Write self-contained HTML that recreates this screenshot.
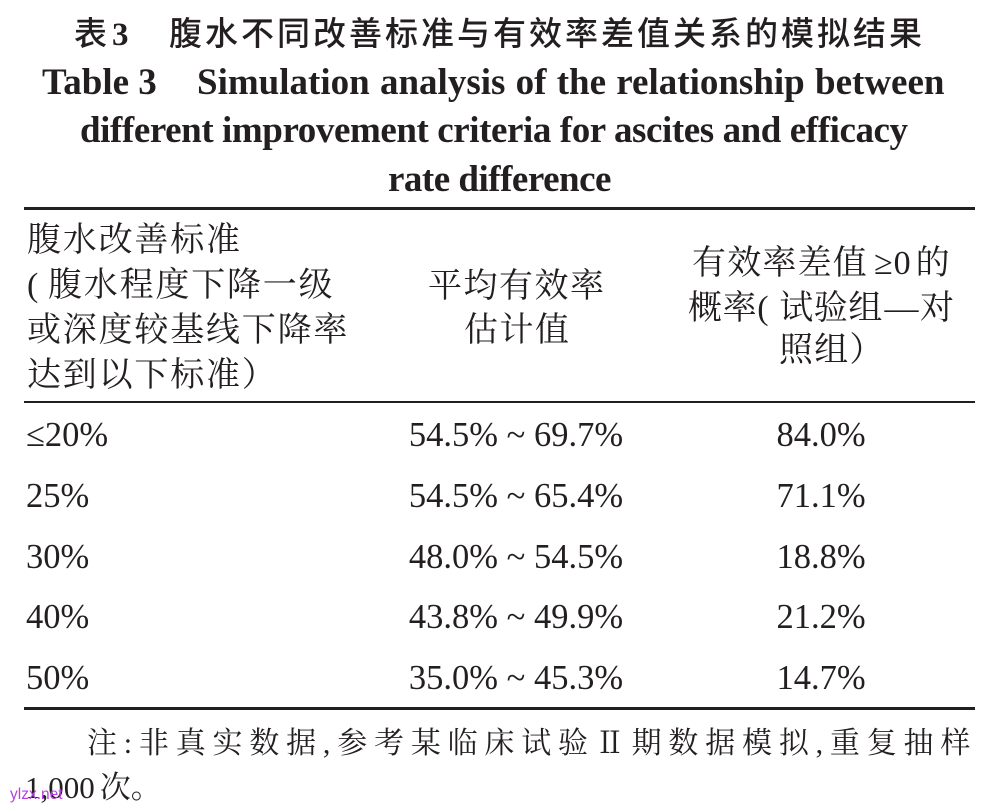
<!DOCTYPE html>
<html><head><meta charset="utf-8">
<style>
html,body{margin:0;padding:0;background:#fff;}
body{width:996px;height:812px;position:relative;overflow:hidden;color:#231f20;}
.a{position:absolute;white-space:nowrap;}
.ib{display:inline-block;}
.t1{font-family:"Noto Sans CJK SC","Liberation Sans",sans-serif;font-weight:500;font-size:33px;line-height:40px;letter-spacing:3px;top:10.6px;left:74px;}
.t1 .n{font-family:"Liberation Serif",serif;font-weight:bold;letter-spacing:0;}
.en{font-family:"Liberation Serif",serif;font-weight:bold;font-size:37px;line-height:48px;}
.rule{position:absolute;left:24px;width:951px;background:#231f20;}
.h{font-family:"Liberation Serif","Noto Serif CJK SC",serif;font-size:34px;line-height:44px;}
.d{font-family:"Liberation Serif","Noto Serif CJK SC",serif;font-size:34.5px;line-height:40px;}
.c2{left:316px;width:400px;text-align:center;}
.c3{left:621px;width:400px;text-align:center;}
.note{font-family:"Liberation Serif","Noto Serif CJK SC",serif;font-size:30px;line-height:40px;}
.wm{font-family:"Liberation Sans",sans-serif;font-size:15.5px;line-height:20px;color:#b83fe4;left:10px;top:784.6px;}
</style></head><body>

<div class="a t1"><span class="ib" style="width:38px">表</span><span class="ib n" style="width:57px">3</span>腹水不同改善标准与有效率差值关系的模拟结果</div>

<div class="a en" style="left:42px;top:58.5px;word-spacing:1px;"><span class="ib" style="width:155px;word-spacing:0">Table 3</span>Simulation analysis of the relationship between</div>
<div class="a en" style="left:80px;top:106.5px;letter-spacing:-0.42px;">different improvement criteria for ascites and efficacy</div>
<div class="a en" style="left:388px;top:155.5px;letter-spacing:-0.5px;">rate difference</div>

<div class="rule" style="top:207px;height:3px;"></div>
<div class="rule" style="top:401px;height:2px;"></div>
<div class="rule" style="top:707px;height:3px;"></div>

<!-- header col 1 -->
<div class="a h" style="left:27px;top:219.4px;letter-spacing:1.8px;">腹水改善标准</div>
<div class="a h" style="left:27px;top:264.1px;letter-spacing:1.8px;"><span class="ib" style="width:21px;letter-spacing:0">(</span>腹水程度下降一级</div>
<div class="a h" style="left:27px;top:308.8px;letter-spacing:1.8px;">或深度较基线下降率</div>
<div class="a h" style="left:27px;top:353.5px;letter-spacing:1.8px;">达到以下标准）</div>

<!-- header col 2 -->
<div class="a h" style="left:428px;top:265.4px;letter-spacing:1.5px;">平均有效率</div>
<div class="a h" style="left:464px;top:309.4px;letter-spacing:1.5px;">估计值</div>

<!-- header col 3 -->
<div class="a h" style="left:692px;top:242.4px;letter-spacing:1.2px;">有效率差值<span style="margin:0 4px 0 6px;letter-spacing:1px">≥0</span>的</div>
<div class="a h" style="left:688px;top:286.9px;letter-spacing:0.6px;">概率<span class="ib" style="width:22px;letter-spacing:0">(</span>试验组<span class="ib" style="width:37px;letter-spacing:0;text-align:center">—</span>对</div>
<div class="a h" style="left:779px;top:329.4px;letter-spacing:1.2px;">照组）</div>

<!-- data rows -->
<div class="a d" style="left:26px;top:415.4px;">≤20%</div>
<div class="a d c2" style="top:415.4px;">54.5% ~ 69.7%</div>
<div class="a d c3" style="top:415.4px;">84.0%</div>

<div class="a d" style="left:26px;top:476.1px;">25%</div>
<div class="a d c2" style="top:476.1px;">54.5% ~ 65.4%</div>
<div class="a d c3" style="top:476.1px;">71.1%</div>

<div class="a d" style="left:26px;top:536.8px;">30%</div>
<div class="a d c2" style="top:536.8px;">48.0% ~ 54.5%</div>
<div class="a d c3" style="top:536.8px;">18.8%</div>

<div class="a d" style="left:26px;top:597.4px;">40%</div>
<div class="a d c2" style="top:597.4px;">43.8% ~ 49.9%</div>
<div class="a d c3" style="top:597.4px;">21.2%</div>

<div class="a d" style="left:26px;top:658.1px;">50%</div>
<div class="a d c2" style="top:658.1px;">35.0% ~ 45.3%</div>
<div class="a d c3" style="top:658.1px;">14.7%</div>

<!-- note -->
<div class="a note" style="left:87px;top:724.3px;letter-spacing:6.8px;">注:非真实数据,参考某临床试验Ⅱ期数据模拟,重复抽样</div>
<div class="a note" style="left:25px;top:768px;font-size:31px;"><span style="letter-spacing:0">1,000</span><span style="margin-left:5px">次。</span></div>

<div class="a wm">ylzx.net</div>

</body></html>
